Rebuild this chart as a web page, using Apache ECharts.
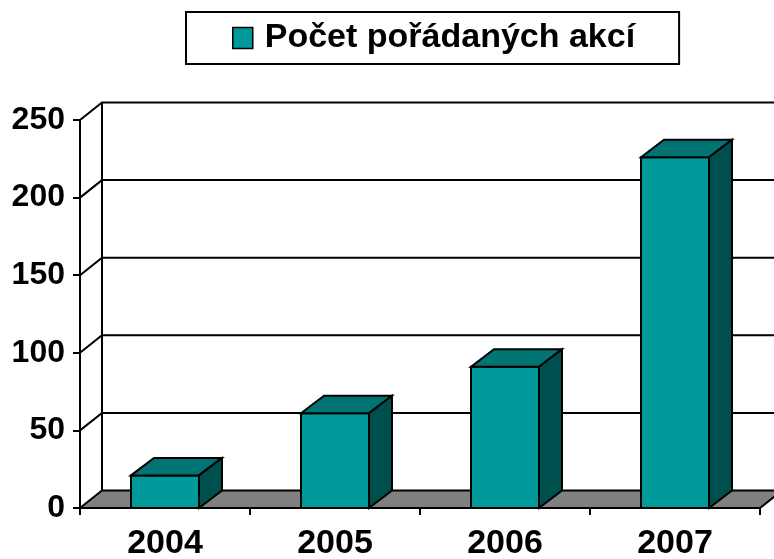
<!DOCTYPE html>
<html>
<head>
<meta charset="utf-8">
<script src="https://cdn.jsdelivr.net/npm/echarts@6/dist/echarts.min.js"></script>
<style>
html,body{margin:0;padding:0;background:#fff;}
#chart{width:774px;height:559px;}
</style>
</head>
<body>
<div id="chart"></div>
<script>
const categories = ['2004', '2005', '2006', '2007'];
const values = [21, 61, 91, 226];
const seriesName = 'Počet pořádaných akcí';
const yTicks = [0, 50, 100, 150, 200, 250];

const FONT = '"Liberation Sans", Arial, sans-serif';
const DX = 22, DY = -17.5;      // wall depth offset (px)
const BDX = 23, BDY = -17.5;    // bar depth offset (px)
const FRONT = '#009999', TOP = '#007373', SIDE = '#004f4f';

const chart = echarts.init(document.getElementById('chart'), null, {renderer: 'canvas'});

function renderWalls(params, api) {
  const cs = params.coordSys;
  const x0 = cs.x, x1 = cs.x + cs.width;
  const yb = api.coord([0, 0])[1];
  const children = [];
  const lineStyle = {stroke: '#000', lineWidth: 2, fill: null};
  children.push({
    type: 'polygon',
    shape: {points: [[x0, yb], [x0 + DX, yb + DY], [x1 + DX, yb + DY], [x1, yb]]},
    style: {fill: '#808080', stroke: '#000', lineWidth: 2}
  });
  const yTop = api.coord([0, yTicks[yTicks.length - 1]])[1];
  children.push({
    type: 'line',
    shape: {x1: x0 + DX, y1: yb + DY, x2: x0 + DX, y2: yTop + DY},
    style: lineStyle
  });
  yTicks.forEach(function (v) {
    if (v === 0) return;
    const y = api.coord([0, v])[1];
    children.push({
      type: 'polyline',
      shape: {points: [[x0, y], [x0 + DX, y + DY], [x1 + DX + 60, y + DY]]},
      style: lineStyle
    });
  });
  return {type: 'group', children: children};
}

function renderBar(params, api) {
  const idx = api.value(0);
  const val = api.value(1);
  const p0 = api.coord([idx, 0]);
  const p1 = api.coord([idx, val]);
  const bw = api.size([1, 0])[0] * 0.4;
  const xl = p0[0] - bw / 2, xr = p0[0] + bw / 2;
  const yb = p0[1], yt = p1[1];
  const st = {stroke: '#000', lineWidth: 2, lineJoin: 'miter'};
  return {
    type: 'group',
    children: [
      {type: 'polygon', shape: {points: [[xl, yt], [xr, yt], [xr, yb], [xl, yb]]},
       style: Object.assign({fill: FRONT}, st)},
      {type: 'polygon', shape: {points: [[xl, yt], [xl + BDX, yt + BDY], [xr + BDX, yt + BDY], [xr, yt]]},
       style: Object.assign({fill: TOP}, st)},
      {type: 'polygon', shape: {points: [[xr, yt], [xr + BDX, yt + BDY], [xr + BDX, yb + BDY], [xr, yb]]},
       style: Object.assign({fill: SIDE}, st)}
    ]
  };
}

const option = {
  animation: false,
  backgroundColor: '#fff',
  legend: {
    data: [{name: seriesName, itemStyle: {color: FRONT, borderColor: '#000', borderWidth: 1.5}}],
    icon: 'rect',
    left: 186,
    top: 12,
    itemWidth: 20,
    itemHeight: 21,
    padding: [9, 44, 9, 46],
    borderColor: '#000',
    borderWidth: 2,
    textStyle: {fontFamily: FONT, fontWeight: 'bold', fontSize: 34, color: '#000', lineHeight: 34, padding: [0, 0, 0, 7]}
  },
  grid: {left: 80, right: 14, top: 120, bottom: 51, containLabel: false, outerBoundsMode: 'none'},
  xAxis: {
    type: 'category',
    data: categories,
    boundaryGap: true,
    axisLine: {show: true, lineStyle: {color: '#000', width: 2}},
    axisTick: {show: true, length: 7, alignWithLabel: false, lineStyle: {color: '#000', width: 2}},
    axisLabel: {fontFamily: FONT, fontWeight: 'bold', fontSize: 34, color: '#000', margin: 19},
    splitLine: {show: false}
  },
  yAxis: {
    type: 'value',
    min: 0,
    max: 250,
    interval: 50,
    axisLine: {show: true, lineStyle: {color: '#000', width: 2}},
    axisTick: {show: true, length: 7, lineStyle: {color: '#000', width: 2}},
    axisLabel: {fontFamily: FONT, fontWeight: 'bold', fontSize: 32, color: '#000', margin: 15},
    splitLine: {show: false}
  },
  series: [
    {
      name: 'walls',
      type: 'custom',
      clip: false,
      silent: true,
      z: 1,
      renderItem: renderWalls,
      data: [[0, 0]]
    },
    {
      name: seriesName,
      type: 'custom',
      clip: false,
      z: 2,
      itemStyle: {color: FRONT},
      encode: {x: 0, y: 1},
      renderItem: renderBar,
      data: categories.map(function (c, i) { return [i, values[i]]; })
    }
  ]
};
chart.setOption(option);
</script>
</body>
</html>
